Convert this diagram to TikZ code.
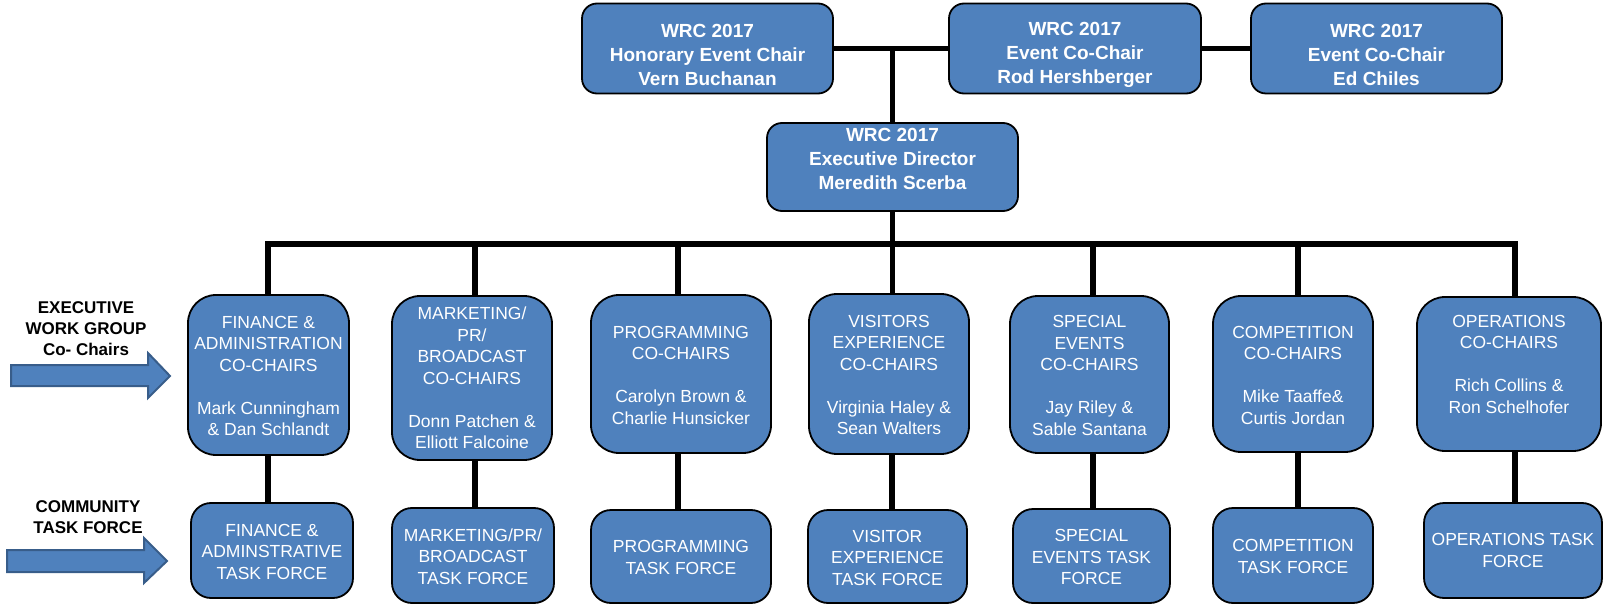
\documentclass[tikz,border=0pt]{standalone}
\usepackage{fontspec}
\setmainfont{Liberation Sans}
\definecolor{boxblue}{HTML}{4F81BD}
\definecolor{arrowedge}{HTML}{385D8A}
\newcommand{\orgbox}[8]{%
  \node[#1, minimum width=#5pt, minimum height=#6pt] (#2) at (#3,#4) {};
  \node[#1text] (#2t) at ([yshift=#7pt]#2.center) {#8};}
\tikzset{
  boxbase/.style={draw=black, line width=1.8pt, fill=boxblue, inner sep=0pt},
  topbox/.style={boxbase, rounded corners=15pt},
  chairbox/.style={boxbase, rounded corners=28pt},
  taskbox/.style={boxbase, rounded corners=20pt},
  topboxtext/.style={text=white, font=\fontsize{19}{24}\selectfont\bfseries, align=center, inner sep=0pt},
  chairboxtext/.style={text=white, font=\fontsize{17.5}{21.5}\selectfont, align=center, inner sep=0pt},
  taskboxtext/.style={chairboxtext},
  link/.style={line width=5.5pt, draw=black},
  sidelabel/.style={font=\fontsize{17}{21}\selectfont\bfseries, align=center, inner sep=0pt},
  bigarrow/.style={fill=boxblue, draw=arrowedge, line width=2pt}
}
\begin{document}
\begin{tikzpicture}[x=1pt, y=-1pt]
\useasboundingbox (0,0) rectangle (1604,604);
% top row
\orgbox{topbox}{hon}{707.5}{48.5}{251}{90}{-6}{WRC 2017\\Honorary Event Chair\\Vern Buchanan}
\orgbox{topbox}{rod}{1075}{48.5}{252}{90}{-6}{WRC 2017\\Event Co-Chair\\Rod Hershberger}
\orgbox{topbox}{ed}{1376.5}{48.5}{251}{90}{-6}{WRC 2017\\Event Co-Chair\\Ed Chiles}
\orgbox{topbox}{exec}{892.5}{167}{251}{88}{8}{WRC 2017\\Executive Director\\Meredith Scerba}
% co-chair row
\orgbox{chairbox}{c1}{268.5}{375}{161}{160}{-1}{FINANCE \&\\ADMINISTRATION\\CO-CHAIRS\\[21.5pt]Mark Cunningham\\\& Dan Schlandt}
\orgbox{chairbox}{c2}{472}{378}{160}{164}{0}{MARKETING/\\PR/\\BROADCAST\\CO-CHAIRS\\[21.5pt]Donn Patchen \&\\Elliott Falcoine}
\orgbox{chairbox}{c3}{681}{374}{180}{158}{-1}{PROGRAMMING\\CO-CHAIRS\\[21.5pt]Carolyn Brown \&\\Charlie Hunsicker}
\orgbox{chairbox}{c4}{889}{374}{160}{160}{-1}{VISITORS\\EXPERIENCE\\CO-CHAIRS\\[21.5pt]Virginia Haley \&\\Sean Walters}
\orgbox{chairbox}{c5}{1089.5}{374.5}{159}{157}{-1}{SPECIAL\\EVENTS\\CO-CHAIRS\\[21.5pt]Jay Riley \&\\Sable Santana}
\orgbox{chairbox}{c6}{1293}{374}{160}{156}{-1}{COMPETITION\\CO-CHAIRS\\[21.5pt]Mike Taaffe\&\\Curtis Jordan}
\orgbox{chairbox}{c7}{1509}{374}{184}{154}{10}{OPERATIONS\\CO-CHAIRS\\[21.5pt]Rich Collins \&\\Ron Schelhofer}
% task force row
\orgbox{taskbox}{t1}{272}{550.5}{162}{95}{-1}{FINANCE \&\\ADMINSTRATIVE\\TASK FORCE}
\orgbox{taskbox}{t2}{473}{555.5}{162}{95}{-1}{MARKETING/PR/\\BROADCAST\\TASK FORCE}
\orgbox{taskbox}{t3}{681}{556.5}{180}{93}{-1}{PROGRAMMING\\TASK FORCE}
\orgbox{taskbox}{t4}{887.5}{556.5}{159}{93}{-1}{VISITOR\\EXPERIENCE\\TASK FORCE}
\orgbox{taskbox}{t5}{1091.5}{556}{157}{94}{-1}{SPECIAL\\EVENTS TASK\\FORCE}
\orgbox{taskbox}{t6}{1293}{555.5}{160}{95}{-1}{COMPETITION\\TASK FORCE}
\orgbox{taskbox}{t7}{1513}{550.5}{178}{95}{0}{OPERATIONS TASK\\FORCE}
% connectors
\coordinate (bus) at (892.5,244);
\draw[link] (hon.east) -- (rod.west);
\draw[link] (rod.east) -- (ed.west);
\draw[link] (exec.north) -- (exec.north |- hon.east);
\draw[link] (exec.south) -- (exec.south |- c4.north);
\draw[link] ([xshift=-0.5pt]c1.north) -- ([xshift=-0.5pt]c1.north |- bus)
  -- ([xshift=6pt]c7.north |- bus) -- ([xshift=6pt]c7.north);
\foreach \n/\dx in {c2/3, c3/-3, c5/3.5, c6/5}
  \draw[link] ([xshift=\dx pt]\n.north) -- ([xshift=\dx pt]\n.north |- bus);
\foreach \c/\t/\dx in {c1/t1/-0.5, c2/t2/3, c3/t3/-3, c4/t4/3, c5/t5/3.5, c6/t6/5, c7/t7/6}
  \draw[link] ([xshift=\dx pt]\c.south) -- ([xshift=\dx pt]\c.south |- \t.north);
% side labels and arrows
\node[sidelabel] (ewg) at (86,329) {EXECUTIVE\\WORK GROUP\\Co- Chairs};
\node[sidelabel] (ctf) at (88,517) {COMMUNITY\\TASK FORCE};
\draw[bigarrow] (11,365) -- (148,365) -- (148,353) -- (170,376) -- (148,398) -- (148,386) -- (11,386) -- cycle;
\draw[bigarrow] (7,550) -- (144,550) -- (144,538) -- (167,561) -- (144,583) -- (144,572) -- (7,572) -- cycle;
\end{tikzpicture}
\end{document}
